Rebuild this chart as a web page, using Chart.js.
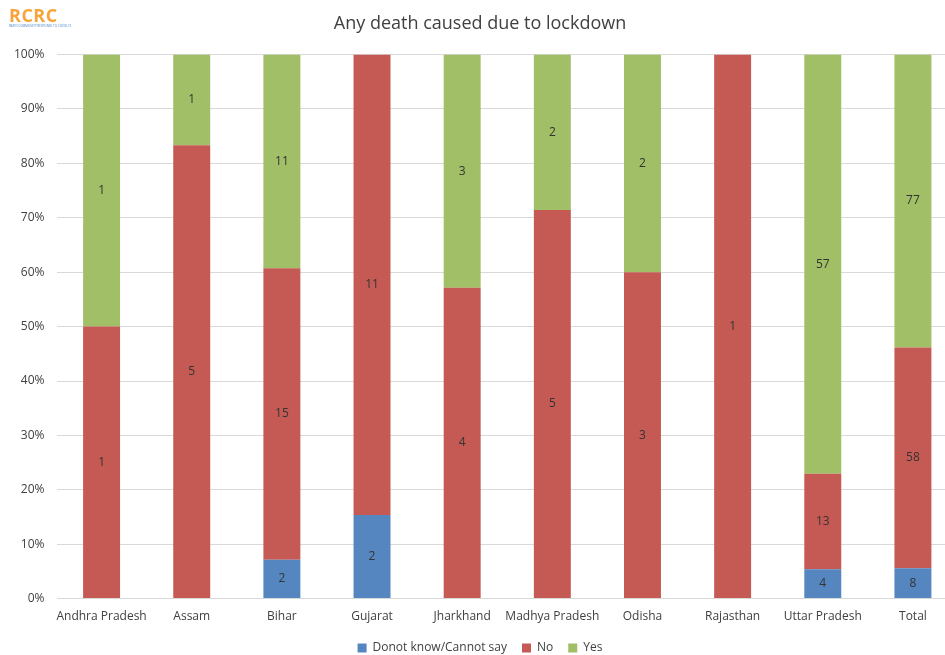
<!DOCTYPE html>
<html>
<head>
<meta charset="utf-8">
<script src="https://cdn.jsdelivr.net/npm/chart.js@4/dist/chart.umd.min.js"></script>
<style>
    html, body { margin: 0; padding: 0; background: #fff; }
    #wrap { position: relative; width: 945px; height: 655px; overflow: hidden; }
    #logo { position: absolute; left: 9px; top: 6px; font-family: "Open Sans", sans-serif; }
    #logo .big { color: #f7a43a; font-weight: 700; font-size: 18px; letter-spacing: 0.5px; line-height: 18px; }
    #logo .small { color: #4a86c8; font-size: 3px; line-height: 4px; white-space: nowrap; }
</style>
</head>
<body>
<div id="wrap">
    <canvas id="chart" width="986" height="655"></canvas>
    <div id="logo"><div class="big">RCRC</div><div class="small">RAPID COMMUNITY RESPONSE TO COVID-19</div></div>
</div>
<script>
const categories = ['Andhra Pradesh', 'Assam', 'Bihar', 'Gujarat', 'Jharkhand', 'Madhya Pradesh', 'Odisha', 'Rajasthan', 'Uttar Pradesh', 'Total'];
const dontKnow = [0, 0, 2, 2, 0, 0, 0, 0, 4, 8];
const no = [1, 5, 15, 11, 4, 5, 3, 1, 13, 58];
const yes = [1, 1, 11, 0, 3, 2, 2, 0, 57, 77];
const yTicks = [0, 10, 20, 30, 40, 50, 60, 70, 80, 90, 100];

const totals = categories.map((c, i) => dontKnow[i] + no[i] + yes[i]);
const pct = arr => arr.map((v, i) => v / totals[i] * 100);

const FONT = '"Open Sans", sans-serif';

// draws the count in the middle of each segment
const countLabels = {
    id: 'countLabels',
    afterDatasetsDraw(chart) {
        const ctx = chart.ctx;
        ctx.save();
        ctx.font = '12px ' + FONT;
        ctx.fillStyle = '#333333';
        ctx.textAlign = 'center';
        ctx.textBaseline = 'middle';
        chart.data.datasets.forEach((ds, di) => {
            chart.getDatasetMeta(di).data.forEach((bar, i) => {
                const n = ds.counts[i];
                if (!n) return;
                ctx.fillText(n, bar.x, (bar.y + bar.base) / 2);
            });
        });
        ctx.restore();
    }
};

const ctx = document.getElementById('chart');
new Chart(ctx, {
    type: 'bar',
    data: {
        labels: categories,
        datasets: [
            { label: 'Donot know/Cannot say', data: pct(dontKnow), counts: dontKnow, backgroundColor: '#5586c0' },
            { label: 'No', data: pct(no), counts: no, backgroundColor: '#c55a55' },
            { label: 'Yes', data: pct(yes), counts: yes, backgroundColor: '#a0bf66' }
        ]
    },
    options: {
        responsive: false,
        animation: false,
        barPercentage: 0.41,
        categoryPercentage: 1,
        layout: { padding: { left: 2, right: 28, top: 9, bottom: -9 } },
        plugins: {
            title: {
                display: true,
                text: 'Any death caused due to lockdown',
                color: '#404040',
                font: { family: FONT, size: 18, weight: 'normal' },
                padding: { top: 4, bottom: 20 }
            },
            legend: {
                position: 'bottom',
                labels: {
                    boxWidth: 9, boxHeight: 9, padding: 15,
                    color: '#404040',
                    font: { family: FONT, size: 12 }
                }
            },
            tooltip: { enabled: false }
        },
        scales: {
            x: {
                stacked: true,
                grid: { display: false },
                border: { display: false },
                ticks: { color: '#404040', font: { family: FONT, size: 12 }, maxRotation: 0, autoSkip: false, padding: 3 }
            },
            y: {
                stacked: true,
                min: 0, max: 100,
                afterBuildTicks: axis => { axis.ticks = yTicks.map(v => ({ value: v })); },
                grid: { color: '#d9d9d9', drawTicks: false },
                border: { display: false },
                ticks: { color: '#404040', font: { family: FONT, size: 12 }, padding: 12, callback: v => v + '%' }
            }
        }
    },
    plugins: [countLabels]
});
</script>
</body>
</html>
